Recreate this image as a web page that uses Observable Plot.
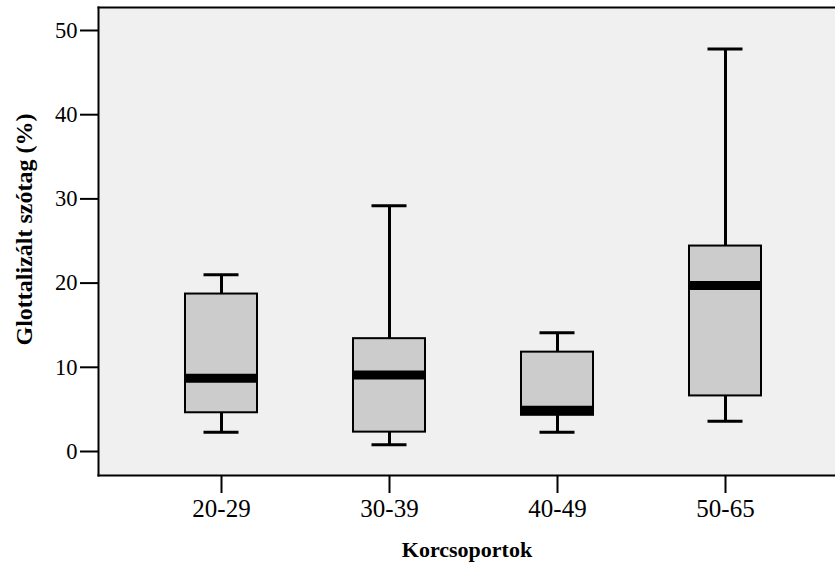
<!DOCTYPE html>
<html>
<head>
<meta charset="utf-8">
<script src="https://cdn.jsdelivr.net/npm/d3@7"></script>
<script src="https://cdn.jsdelivr.net/npm/@observablehq/plot@0.6"></script>
<style>
  html, body { margin: 0; padding: 0; background: white; }
  #chart svg, #chart svg text { font-family: "Liberation Serif", "Times New Roman", serif !important; }
</style>
</head>
<body>
<div id="chart"></div>
<script>
const groups = ["20-29", "30-39", "40-49", "50-65"];
const whiskerLow = [2.3, 0.8, 2.3, 3.6];
const q1 = [4.6, 2.3, 4.3, 6.6];
const median = [8.7, 9.1, 4.9, 19.7];
const q3 = [18.7, 13.4, 11.8, 24.4];
const whiskerHigh = [21.0, 29.2, 14.1, 47.8];
const yTicks = [0, 10, 20, 30, 40, 50];
const xTitle = "Korcsoportok";
const yTitle = "Glottalizált szótag (%)";

const rows = groups.map((g, i) => ({
  group: g, lo: whiskerLow[i], q1: q1[i], med: median[i], q3: q3[i], hi: whiskerHigh[i]
}));

const serif = "Liberation Serif";

const chart = Plot.plot({
  width: 835,
  height: 563,
  marginLeft: 98,
  marginRight: 0,
  marginTop: 7,
  marginBottom: 88,
  style: { fontFamily: serif, fontSize: "22px", background: "white", color: "black" },
  x: { type: "band", domain: groups, paddingInner: 0.57, paddingOuter: 0.285, insetLeft: 38, insetRight: 25 },
  y: { domain: [-2.85, 52.73] },
  marks: [
    Plot.frame({ fill: "#f0f0f0", stroke: null }),
    Plot.frame({ anchor: "top", stroke: "black", strokeWidth: 2 }),
    Plot.frame({ anchor: "bottom", stroke: "black", strokeWidth: 2 }),
    Plot.frame({ anchor: "left", stroke: "black", strokeWidth: 2 }),
    Plot.axisY({ ticks: yTicks, tickSize: 18, tickPadding: 3, fontSize: 22.5, fontFamily: serif, strokeWidth: 2, label: null, tickFormat: d3.format("d") }),
    Plot.axisX({ tickSize: 18, tickPadding: 6, fontSize: 25, fontFamily: serif, strokeWidth: 2, label: null }),
    Plot.ruleX(rows, { x: "group", y1: "lo", y2: "hi", stroke: "black", strokeWidth: 3 }),
    Plot.barY(rows, { x: "group", y1: "q1", y2: "q3", fill: "#cccccc", stroke: "black", strokeWidth: 2 }),
    Plot.tickY(rows, { x: "group", y: "med", stroke: "black", strokeWidth: 9, inset: 1 }),
    Plot.tickY(rows, { x: "group", y: "lo", stroke: "black", strokeWidth: 3, inset: 18.5 }),
    Plot.tickY(rows, { x: "group", y: "hi", stroke: "black", strokeWidth: 3, inset: 18.5 }),
    Plot.text([yTitle], { frameAnchor: "left", textAnchor: "middle", lineAnchor: "middle", dx: -74, dy: -12, rotate: -90, fontSize: 24, fontFamily: serif, fontWeight: "bold", fill: "black" }),
    Plot.text([xTitle], { frameAnchor: "bottom", textAnchor: "middle", lineAnchor: "middle", dy: 74, fontSize: 22, fontFamily: serif, fontWeight: "bold", fill: "black" })
  ]
});
document.getElementById("chart").appendChild(chart);
</script>
</body>
</html>
